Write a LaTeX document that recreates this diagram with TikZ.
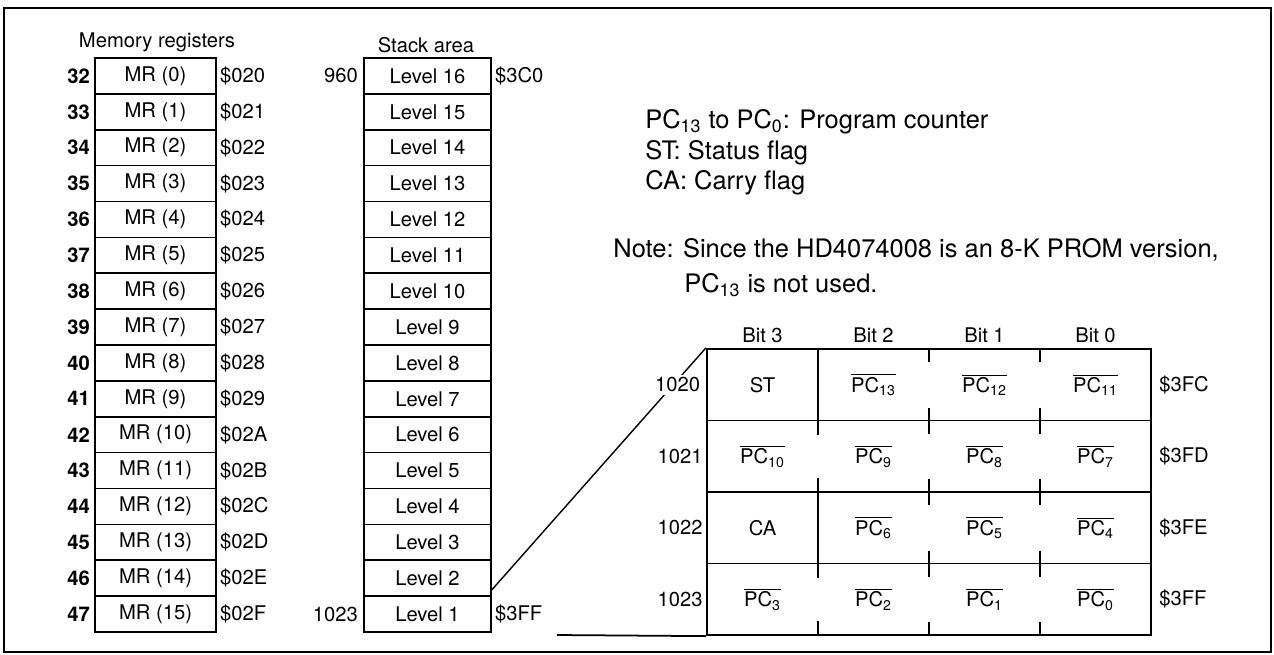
\documentclass[tikz,border=0pt]{standalone}
\usepackage{fontspec}
\setmainfont{TeX Gyre Heros}
\usetikzlibrary{positioning}

\newcommand{\npc}[1]{$\overline{\mbox{PC\textsubscript{#1}}}$}

\tikzset{
  cell/.style={draw, line width=0.9pt, minimum height=0.7175cm, inner sep=0pt, font=\fontsize{11.5}{13}\selectfont},
  mrcell/.style={cell, minimum width=2.42cm},
  lvcell/.style={cell, minimum width=2.54cm},
  lbl/.style={inner sep=0pt, font=\fontsize{11.5}{13}\selectfont},
  legend/.style={anchor=west, inner sep=0pt, font=\fontsize{14.5}{17}\selectfont},
  grid/.style={line width=1pt}
}

\begin{document}
\begin{tikzpicture}[x=0.02cm, y=-0.02cm]
\useasboundingbox (0,0) rectangle (1274,654);
\draw[line width=1.5pt] (4,8) rectangle (1271,652);

\node (mrtitle) at (157,42) [lbl] {Memory registers};
\node (sttitle) at (426,45) [lbl] {Stack area};

\foreach \i/\h in {0/0,1/1,2/2,3/3,4/4,5/5,6/6,7/7,8/8,9/9,10/A,11/B,12/C,13/D,14/E,15/F} {
  \pgfmathsetmacro{\yy}{58+35.875*(\i+0.5)}
  \pgfmathtruncatemacro{\nn}{32+\i}
  \pgfmathtruncatemacro{\lv}{16-\i}
  \node (mr\i) at (155.5,\yy) [mrcell] {MR (\i)};
  \node (mrn\i) [lbl, left=0.08cm of mr\i] {\bfseries\nn};
  \node (mra\i) [lbl, right=0.06cm of mr\i] {\$02\h};
  \node (lv\lv) at (427.5,\yy) [lvcell] {Level \lv};
}

\node (lvn16) [lbl, left=0.1cm of lv16] {960};
\node (lva16) [lbl, right=0.06cm of lv16] {\$3C0};
\node (lvn1) [lbl, left=0.1cm of lv1] {1023};
\node (lva1) [lbl, right=0.06cm of lv1] {\$3FF};

\node (leg1) at (645,122) [legend] {PC\textsubscript{13} to PC\textsubscript{0}: Program counter};
\node (leg2) at (645,153) [legend] {ST: Status flag};
\node (leg3) at (645,183) [legend] {CA: Carry flag};
\node (note1) at (613,250) [legend] {Note: Since the HD4074008 is an 8-K PROM version,};
\node (note2) at (684,285) [legend] {PC\textsubscript{13} is not used.};

\node (tab) at (929,492) [draw, line width=1.3pt, minimum width=8.88cm, minimum height=5.72cm, inner sep=0pt] {};
\foreach \r in {1,2,3}
  \draw[grid] (707,{349+71.5*\r}) -- (1151,{349+71.5*\r});
\draw[grid] (818,349) -- (818,434.5);
\draw[grid] (818,478) -- (818,577.5);
\draw[grid] (818,621) -- (818,635);
\foreach \x in {929,1040} {
  \draw[grid] (\x,349) -- (\x,362);
  \foreach \r in {1,2,3}
    \draw[grid] (\x,{349+71.5*\r-13}) -- (\x,{349+71.5*\r+13});
  \draw[grid] (\x,622) -- (\x,635);
}

\coordinate (foot) at (557,635);
\draw[line width=0.8pt] ([yshift=0.14cm]lv2.south east) -- (tab.north west);
\draw[line width=1pt] (foot) -- (tab.south west);

\node (bit3) at (762.5,335) [lbl] {Bit 3};
\node (bit2) at (873.5,335) [lbl] {Bit 2};
\node (bit1) at (984.5,335) [lbl] {Bit 1};
\node (bit0) at (1095.5,335) [lbl] {Bit 0};

\node (st) at (762.5,384.75) [lbl] {ST};
\node (pc13) at (873.5,384.75) [lbl] {\npc{13}};
\node (pc12) at (984.5,384.75) [lbl] {\npc{12}};
\node (pc11) at (1095.5,384.75) [lbl] {\npc{11}};
\node (pc10) at (762.5,456.25) [lbl] {\npc{10}};
\node (pc9) at (873.5,456.25) [lbl] {\npc{9}};
\node (pc8) at (984.5,456.25) [lbl] {\npc{8}};
\node (pc7) at (1095.5,456.25) [lbl] {\npc{7}};
\node (ca) at (762.5,527.75) [lbl] {CA};
\node (pc6) at (873.5,527.75) [lbl] {\npc{6}};
\node (pc5) at (984.5,527.75) [lbl] {\npc{5}};
\node (pc4) at (1095.5,527.75) [lbl] {\npc{4}};
\node (pc3) at (762.5,599.25) [lbl] {\npc{3}};
\node (pc2) at (873.5,599.25) [lbl] {\npc{2}};
\node (pc1) at (984.5,599.25) [lbl] {\npc{1}};
\node (pc0) at (1095.5,599.25) [lbl] {\npc{0}};

\node (r1020) at (703,384.75) [lbl, anchor=east, fill=white, inner sep=1.5pt] {1020};
\node (r1021) at (703,456.25) [lbl, anchor=east] {1021};
\node (r1022) at (703,527.75) [lbl, anchor=east] {1022};
\node (r1023) at (703,599.25) [lbl, anchor=east] {1023};
\node (a3fc) at (1159,384.75) [lbl, anchor=west] {\$3FC};
\node (a3fd) at (1159,456.25) [lbl, anchor=west] {\$3FD};
\node (a3fe) at (1159,527.75) [lbl, anchor=west] {\$3FE};
\node (a3ff) at (1159,599.25) [lbl, anchor=west] {\$3FF};

\end{tikzpicture}
\end{document}
